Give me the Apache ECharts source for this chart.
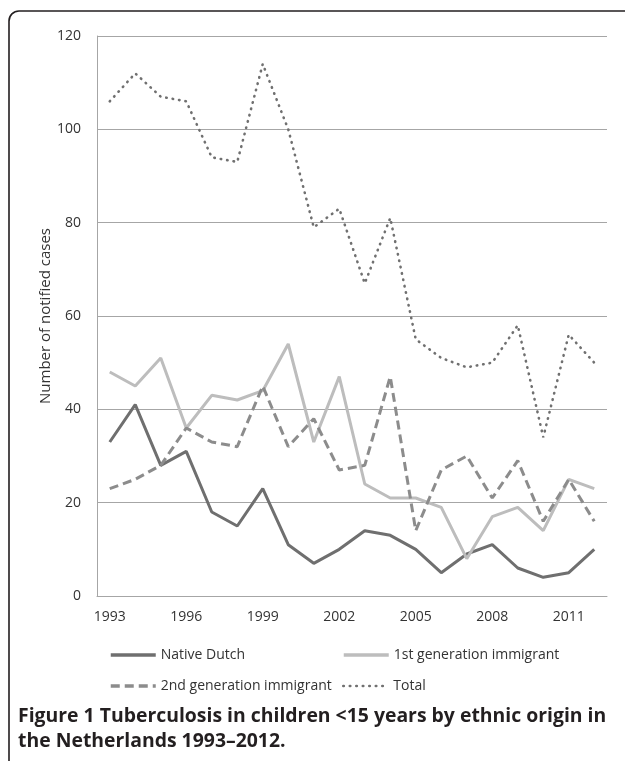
<!DOCTYPE html>
<html>
<head>
<meta charset="utf-8">
<script src="https://cdn.jsdelivr.net/npm/echarts@6/dist/echarts.min.js"></script>
<style>
html,body{margin:0;padding:0;background:#fff;}
#c{width:625px;height:761px;}
</style>
</head>
<body>
<div id="c"></div>
<script>
const years = ['1993','1994','1995','1996','1997','1998','1999','2000','2001','2002','2003','2004','2005','2006','2007','2008','2009','2010','2011','2012'];
const nativeDutch = [33,41,28,31,18,15,23,11,7,10,14,13,10,5,9,11,6,4,5,10];
const firstGen = [48,45,51,36,43,42,44,54,33,47,24,21,21,19,8,17,19,14,25,23];
const secondGen = [23,25,28,36,33,32,45,32,38,27,28,47,14,27,30,21,29,16,25,16];
const total = [106,112,107,106,94,93,114,100,79,83,67,81,55,51,49,50,58,34,56,50];
const yTicks = {min:0, max:120, interval:20};

const FONT = '"Open Sans", "Noto Sans", sans-serif';
const chart = echarts.init(document.getElementById('c'), null, {renderer:'canvas'});

function legendAt(name, left, top, lw){
  return {
    data:[name], left:left, top:top, orient:'horizontal',
    itemWidth:45, itemHeight:14, itemGap:0,
    itemStyle:{opacity:0},
    lineStyle:{width:lw},
    textStyle:{fontFamily:FONT, fontSize:14, color:'#333'},
    padding:0
  };
}

chart.setOption({
  animation:false,
  backgroundColor:'#fff',
  grid:{left:97, right:18, top:36, bottom:165},
  title:{
    text:'Figure 1 Tuberculosis in children <15 years by ethnic origin in\nthe Netherlands 1993\u20132012.',
    left:13, top:699,
    textStyle:{fontFamily:FONT, fontSize:19.4, fontWeight:'bold', color:'#231f20', lineHeight:25}
  },
  legend:[
    legendAt('Native Dutch', 109, 648, 3.5),
    legendAt('1st generation immigrant', 342, 648, 3.5),
    legendAt('2nd generation immigrant', 109, 679, 3.5),
    legendAt('Total', 342, 679, 2.6)
  ],
  xAxis:{
    type:'category', data:years, boundaryGap:true,
    axisLine:{lineStyle:{color:'#a6a6a6', width:1}},
    axisTick:{show:false},
    axisLabel:{interval:2, margin:14, fontFamily:FONT, fontSize:14, color:'#333'}
  },
  yAxis:{
    type:'value', min:yTicks.min, max:yTicks.max, interval:yTicks.interval,
    name:'Number of notified cases', nameLocation:'middle', nameGap:44, nameMoveOverlap:false,
    nameTextStyle:{fontFamily:FONT, fontSize:15, color:'#333'},
    axisLine:{show:true, lineStyle:{color:'#a6a6a6', width:1}},
    axisTick:{show:false},
    axisLabel:{margin:16, fontFamily:FONT, fontSize:14, color:'#333'},
    splitLine:{lineStyle:{color:'#a6a6a6', width:1}}
  },
  graphic:[{
    type:'rect', silent:true, z:100,
    shape:{x:9, y:11, width:800, height:900, r:[10,0,0,0]},
    style:{fill:null, stroke:'#231f20', lineWidth:1.6}
  }],
  series:[
    {name:'Native Dutch', type:'line', data:nativeDutch, symbol:'none', color:'#6f6f6f',
     lineStyle:{width:3, color:'#6f6f6f'}},
    {name:'1st generation immigrant', type:'line', data:firstGen, symbol:'none', color:'#bdbdbd',
     lineStyle:{width:3, color:'#bdbdbd'}},
    {name:'2nd generation immigrant', type:'line', data:secondGen, symbol:'none', color:'#8c8c8c',
     lineStyle:{width:3, color:'#8c8c8c', type:[9,5]}},
    {name:'Total', type:'line', data:total, symbol:'none', color:'#707070',
     lineStyle:{width:2.6, color:'#707070', type:[0.5,6], cap:'round'}}
  ]
});
</script>
</body>
</html>
